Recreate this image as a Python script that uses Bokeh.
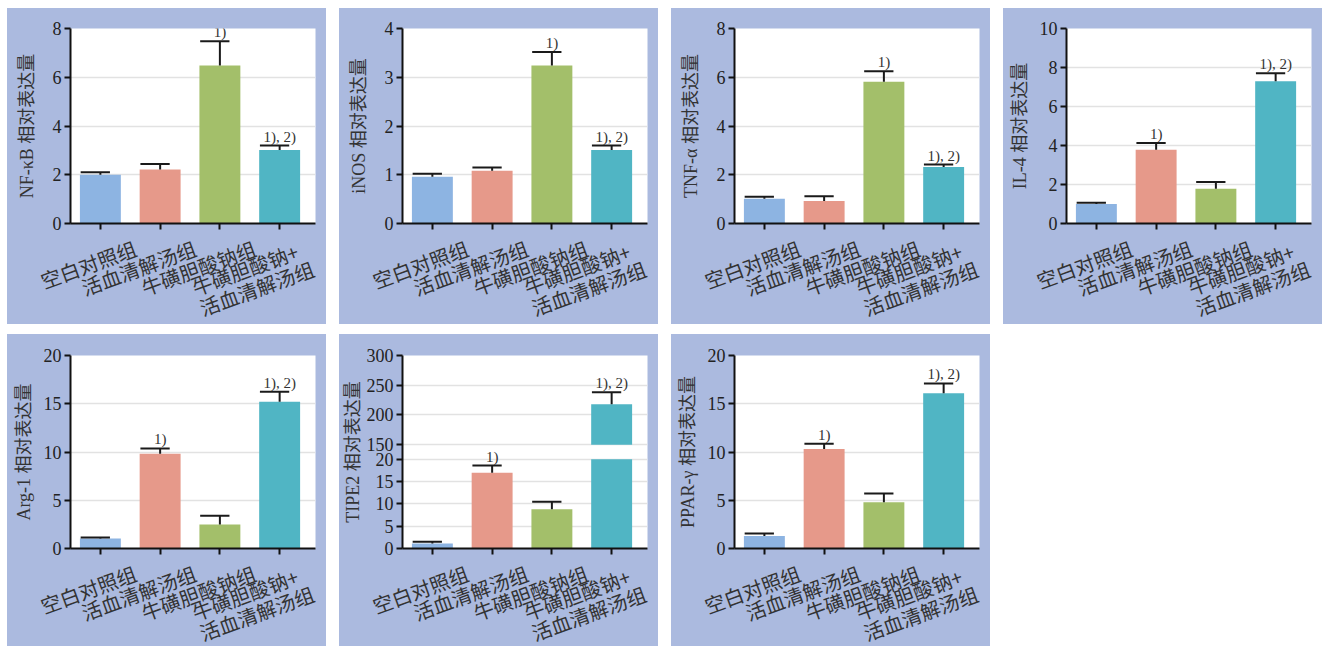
import math
from bokeh.plotting import figure
from bokeh.models import Range1d, FixedTicker, ColumnDataSource, LabelSet
from bokeh.layouts import row, column
from bokeh.core.properties import value
from bokeh.embed import file_html
from bokeh.resources import INLINE

# ---------------- data ----------------
categories = ["空白对照组", "活血清解汤组", "牛磺胆酸钠组", "牛磺胆酸钠+\n活血清解汤组"]
x_pos = [1, 2, 3, 4]
bar_colors = ["#8db4e2", "#e6998a", "#a3bf6a", "#50b5c4"]

nfkb_mean = [2.0, 2.22, 6.48, 3.02]
nfkb_err = [0.1, 0.22, 1.0, 0.18]
nfkb_sig = ["", "", "1)", "1), 2)"]
nfkb_ticks = [0, 2, 4, 6, 8]

inos_mean = [0.96, 1.08, 3.24, 1.51]
inos_err = [0.06, 0.07, 0.28, 0.09]
inos_sig = ["", "", "1)", "1), 2)"]
inos_ticks = [0, 1, 2, 3, 4]

tnf_mean = [1.02, 0.92, 5.82, 2.32]
tnf_err = [0.08, 0.2, 0.43, 0.1]
tnf_sig = ["", "", "1)", "1), 2)"]
tnf_ticks = [0, 2, 4, 6, 8]

il4_mean = [1.0, 3.78, 1.78, 7.3]
il4_err = [0.07, 0.35, 0.35, 0.4]
il4_sig = ["", "1)", "", "1), 2)"]
il4_ticks = [0, 2, 4, 6, 8, 10]

arg1_mean = [1.03, 9.82, 2.5, 15.2]
arg1_err = [0.1, 0.55, 0.9, 1.05]
arg1_sig = ["", "1)", "", "1), 2)"]
arg1_ticks = [0, 5, 10, 15, 20]

tipe2_mean = [1.1, 17.0, 8.8, 218.0]
tipe2_err = [0.4, 1.6, 1.7, 20.0]
tipe2_sig = ["", "1)", "", "1), 2)"]
tipe2_ticks = [0, 5, 10, 15, 20, 150, 200, 250, 300]

ppar_mean = [1.3, 10.3, 4.8, 16.1]
ppar_err = [0.25, 0.55, 0.9, 1.0]
ppar_sig = ["", "1)", "", "1), 2)"]
ppar_ticks = [0, 5, 10, 15, 20]

# broken axis parameters for TIPE2
BRK_LOW, BRK_HIGH, BRK_GAP, BRK_K = 20, 150, 3.3, 0.1333

# ---------------- style ----------------
PANEL_BG = "#abbadf"
SERIF = "'Liberation Serif', 'Noto Sans CJK SC'"
XR = (0.5, 4.6)
PW = 319            # panel width
BL, BR = 63, 11     # left / right border of the plot frame
BB = 10             # bottom border of the chart part
PX = (PW - BL - BR) / (XR[1] - XR[0])   # px per x unit
LABEL_DX = [30, 30, 30, 21]             # screen offsets of the rotated category labels


def brk(v):
    if v <= BRK_LOW:
        return v
    return round(BRK_LOW + BRK_GAP + (v - BRK_HIGH) * BRK_K, 6)


def ident(v):
    return v


def make_panel(ylabel, means, errs, sigs, ticks, chart_h, label_h, top_b, lab_standoff, f=ident):
    ymax = ticks[-1]
    p = figure(width=PW, height=chart_h,
               x_range=Range1d(*XR), y_range=Range1d(0, f(ymax)),
               output_backend="svg", toolbar_location=None, frame_align=False,
               min_border_left=BL, min_border_right=BR,
               min_border_top=top_b, min_border_bottom=BB,
               background_fill_color="white", border_fill_color=PANEL_BG,
               outline_line_color=None)

    # bars
    bx, bb, bt, bc = [], [], [], []
    for x, m, c in zip(x_pos, means, bar_colors):
        if f is not ident and m > BRK_LOW:
            bx += [x, x]; bb += [0, f(BRK_HIGH)]; bt += [f(BRK_LOW), f(m)]; bc += [c, c]
        else:
            bx.append(x); bb.append(0); bt.append(f(m)); bc.append(c)
    p.vbar(x="x", bottom="b", top="t", width=0.685, color="c", line_color=None,
           source=ColumnDataSource(dict(x=bx, b=bb, t=bt, c=bc)))

    # error bars
    etop = [f(m + e) for m, e in zip(means, errs)]
    src = ColumnDataSource(dict(x=x_pos, y0=[f(m) for m in means], y1=etop,
                                cl=[x - 0.33 for x in x_pos], cr=[x + 0.16 for x in x_pos],
                                sig=sigs))
    p.segment(x0="x", y0="y0", x1="x", y1="y1", line_color="#1a1a1a", line_width=2, source=src)
    p.segment(x0="cl", y0="y1", x1="cr", y1="y1", line_color="#1a1a1a", line_width=2, source=src)
    p.add_layout(LabelSet(x="x", y="y1", text="sig", source=src, y_offset=1,
                          text_align="center", text_baseline="bottom",
                          text_font=value("Liberation Serif"), text_font_size="15px",
                          text_color="#333333"))

    # y axis
    ya = p.yaxis[0]
    ya.ticker = FixedTicker(ticks=[f(t) for t in ticks])
    ya.major_label_overrides = {f(t): str(t) for t in ticks}
    ya.axis_label = ylabel
    ya.axis_label_text_font = SERIF
    ya.axis_label_text_font_style = "normal"
    ya.axis_label_text_font_size = "18px"
    ya.axis_label_text_color = "#333333"
    ya.axis_label_standoff = lab_standoff
    ya.major_label_text_font = "Liberation Serif"
    ya.major_label_text_font_size = "18px"
    ya.major_label_text_color = "#222222"
    ya.major_label_standoff = 3
    ya.major_tick_out = 6
    ya.major_tick_in = 0
    ya.major_tick_line_width = 2
    ya.minor_tick_line_color = None
    ya.axis_line_width = 2
    ya.axis_line_color = "#111111"
    ya.major_tick_line_color = "#111111"

    p.ygrid.ticker = FixedTicker(ticks=[f(t) for t in ticks[1:-1]])
    p.ygrid.grid_line_color = "#e2e2e2"
    p.ygrid.grid_line_width = 1.5
    p.xgrid.visible = False

    # x axis (ticks only; category names drawn in the strip below)
    xa = p.xaxis[0]
    xa.ticker = FixedTicker(ticks=x_pos)
    xa.major_label_text_font_size = "1px"
    xa.major_label_text_color = None
    xa.major_label_standoff = 0
    xa.major_tick_out = 6
    xa.major_tick_in = 0
    xa.major_tick_line_width = 2
    xa.minor_tick_line_color = None
    xa.axis_line_width = 2
    xa.axis_line_color = "#111111"
    xa.major_tick_line_color = "#111111"

    # strip below the chart with the rotated category names (same x scale)
    q = figure(width=PW, height=label_h, frame_align=False,
               x_range=Range1d(XR[0] - BL / PX, XR[1] + BR / PX), y_range=Range1d(0, 1),
               output_backend="svg", toolbar_location=None,
               x_axis_location=None, y_axis_location=None,
               min_border=0, min_border_left=0, min_border_right=0,
               min_border_top=0, min_border_bottom=0,
               background_fill_color=PANEL_BG, border_fill_color=PANEL_BG,
               outline_line_color=None)
    q.xgrid.visible = False
    q.ygrid.visible = False
    csrc = ColumnDataSource(dict(x=x_pos, y=[1] * len(x_pos), text=categories, dx=LABEL_DX))
    q.add_layout(LabelSet(x="x", y="y", text="text", source=csrc,
                          x_offset="dx", y_offset=0, angle=math.radians(20),
                          text_align="right", text_baseline="top",
                          text_font=value("Noto Sans CJK SC"), text_font_size="20px",
                          text_color="#333333", text_line_height=0.75))
    return column(p, q, spacing=0, styles={"background-color": PANEL_BG})


p1 = make_panel("NF-κB 相对表达量", nfkb_mean, nfkb_err, nfkb_sig, nfkb_ticks, 225, 91, 20, 13)
p2 = make_panel("iNOS 相对表达量", inos_mean, inos_err, inos_sig, inos_ticks, 225, 91, 20, 13)
p3 = make_panel("TNF-α 相对表达量", tnf_mean, tnf_err, tnf_sig, tnf_ticks, 225, 91, 20, 13)
p4 = make_panel("IL-4 相对表达量", il4_mean, il4_err, il4_sig, il4_ticks, 225, 91, 20, 7)
p5 = make_panel("Arg-1 相对表达量", arg1_mean, arg1_err, arg1_sig, arg1_ticks, 224, 88, 21, 7)
p6 = make_panel("TIPE2 相对表达量", tipe2_mean, tipe2_err, tipe2_sig, tipe2_ticks, 224, 88, 21, 1, f=brk)
p7 = make_panel("PPAR-γ 相对表达量", ppar_mean, ppar_err, ppar_sig, ppar_ticks, 224, 88, 21, 7)

layout = column(row(p1, p2, p3, p4, spacing=13),
                row(p5, p6, p7, spacing=13),
                spacing=10, margin=(8, 0, 0, 7))

open("out.html", "w").write(file_html(layout, INLINE))
